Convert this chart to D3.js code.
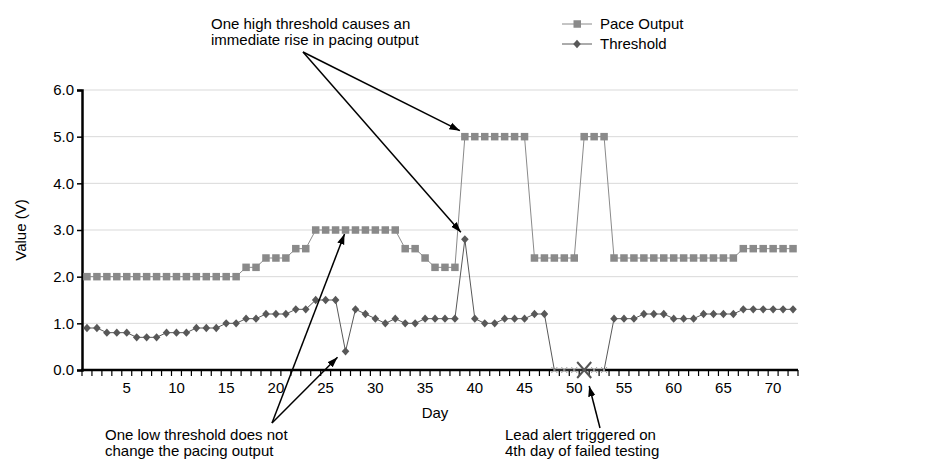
<!DOCTYPE html>
<html>
<head>
<meta charset="utf-8">
<script src="https://cdn.jsdelivr.net/npm/d3@7"></script>
<style>
  body { margin: 0; background: #fff; }
  svg { font-family: "Liberation Sans", Arial, sans-serif; }
</style>
</head>
<body>
<svg width="932" height="464"></svg>
<script>
// days on the x axis
let days = d3.range(1, 73);

// pacing output (V) per day
let paceOutput = [
  2.0, 2.0, 2.0, 2.0, 2.0, 2.0, 2.0, 2.0, 2.0, 2.0, 2.0, 2.0, 2.0, 2.0, 2.0, 2.0,
  2.2, 2.2, 2.4, 2.4, 2.4, 2.6, 2.6,
  3.0, 3.0, 3.0, 3.0, 3.0, 3.0, 3.0, 3.0, 3.0,
  2.6, 2.6, 2.4, 2.2, 2.2, 2.2,
  5.0, 5.0, 5.0, 5.0, 5.0, 5.0, 5.0,
  2.4, 2.4, 2.4, 2.4, 2.4,
  5.0, 5.0, 5.0,
  2.4, 2.4, 2.4, 2.4, 2.4, 2.4, 2.4, 2.4, 2.4, 2.4, 2.4, 2.4, 2.4,
  2.6, 2.6, 2.6, 2.6, 2.6, 2.6
];

// measured threshold (V) per day, 0 = failed test
let threshold = [
  0.9, 0.9, 0.8, 0.8, 0.8, 0.7, 0.7, 0.7, 0.8, 0.8, 0.8, 0.9, 0.9, 0.9, 1.0, 1.0,
  1.1, 1.1, 1.2, 1.2, 1.2, 1.3, 1.3,
  1.5, 1.5, 1.5, 0.4, 1.3, 1.2, 1.1, 1.0, 1.1,
  1.0, 1.0, 1.1, 1.1, 1.1, 1.1,
  2.8, 1.1, 1.0, 1.0, 1.1, 1.1, 1.1,
  1.2, 1.2, 0, 0, 0,
  0, 0, 0,
  1.1, 1.1, 1.1, 1.2, 1.2, 1.2, 1.1, 1.1, 1.1, 1.2, 1.2, 1.2, 1.2,
  1.3, 1.3, 1.3, 1.3, 1.3, 1.3
];

let failedDays = [48, 49, 50, 51, 52, 53];
let alertDay = 51;

let xTickDays = [5, 10, 15, 20, 25, 30, 35, 40, 45, 50, 55, 60, 65, 70];
let yTicks = [0, 1, 2, 3, 4, 5, 6];

let svg = d3.select("svg");

let x = d3.scaleBand().domain(days).range([82, 798]);
let y = d3.scaleLinear().domain([0, 6]).range([370, 90]);
let cx = d => x(d) + x.bandwidth() / 2;

let paceColor = "#8a8a8a";
let threshColor = "#585858";

// arrowhead
svg.append("defs").append("marker")
    .attr("id", "arr")
    .attr("viewBox", "0 0 10 10")
    .attr("refX", 10).attr("refY", 5)
    .attr("markerWidth", 7).attr("markerHeight", 7)
    .attr("orient", "auto")
  .append("path")
    .attr("d", "M0,1.5 L10,5 L0,8.5 Z")
    .attr("fill", "#000");

// grid
svg.append("g")
  .selectAll("line")
  .data(yTicks.filter(t => t > 0))
  .enter().append("line")
    .attr("x1", 82).attr("x2", 798)
    .attr("y1", d => y(d)).attr("y2", d => y(d))
    .attr("stroke", "#d9d9d9").attr("stroke-width", 1);

// y axis
let yAxis = svg.append("g")
    .attr("transform", "translate(82,0)")
    .call(d3.axisLeft(y).tickValues(yTicks).tickFormat(d3.format(".1f")).tickSize(5).tickPadding(3));
yAxis.select(".domain").attr("stroke-width", 2.5);
yAxis.selectAll("text").attr("font-size", 15).attr("fill", "#000").attr("font-family", "Liberation Sans, Arial, sans-serif");
yAxis.selectAll("line").attr("stroke-width", 1.5);

// x axis: ticks on the band edges, labels every 5 days
let xg = svg.append("g");
xg.selectAll("line.tk")
  .data(days.concat([73]))
  .enter().append("line")
    .attr("x1", d => d === 73 ? x(72) + x.bandwidth() : x(d))
    .attr("x2", d => d === 73 ? x(72) + x.bandwidth() : x(d))
    .attr("y1", 370).attr("y2", 376)
    .attr("stroke", "#000").attr("stroke-width", 1.2);
xg.append("line")
    .attr("x1", 81).attr("x2", 798)
    .attr("y1", 370).attr("y2", 370)
    .attr("stroke", "#000").attr("stroke-width", 2.5);
xg.selectAll("text")
  .data(xTickDays)
  .enter().append("text")
    .attr("x", d => cx(d))
    .attr("y", 393)
    .attr("text-anchor", "middle")
    .attr("font-size", 15)
    .text(d => d);

// axis titles
svg.append("text")
    .attr("transform", "translate(26,230) rotate(-90)")
    .attr("text-anchor", "middle")
    .attr("font-size", 15)
    .text("Value (V)");
svg.append("text")
    .attr("x", cx(36)).attr("y", 418)
    .attr("text-anchor", "middle")
    .attr("font-size", 15)
    .text("Day");

// pace output series
let seriesLine = d3.line().x((d, i) => cx(days[i])).y(d => y(d));
svg.append("path")
    .attr("d", seriesLine(paceOutput))
    .attr("fill", "none").attr("stroke", paceColor).attr("stroke-width", 1);
svg.append("g")
  .selectAll("rect")
  .data(paceOutput)
  .enter().append("rect")
    .attr("x", (d, i) => cx(days[i]) - 3.75)
    .attr("y", d => y(d) - 3.75)
    .attr("width", 7.5).attr("height", 7.5)
    .attr("fill", paceColor);

// threshold series
svg.append("path")
    .attr("d", seriesLine(threshold))
    .attr("fill", "none").attr("stroke", threshColor).attr("stroke-width", 1);
let diamond = "M0,-4.2L3.8,0L0,4.2L-3.8,0Z";
svg.append("g")
  .selectAll("path")
  .data(threshold.map((v, i) => ({day: days[i], v: v})).filter(d => failedDays.indexOf(d.day) < 0))
  .enter().append("path")
    .attr("transform", d => "translate(" + cx(d.day) + "," + y(d.v) + ")")
    .attr("d", diamond)
    .attr("fill", threshColor);

// failed tests: small crosses
let fails = svg.append("g");
failedDays.forEach(function (d) {
    let px = cx(d), py = y(threshold[d - 1]);
    fails.append("path")
        .attr("d", "M" + (px - 3) + "," + (py - 3) + "L" + (px + 3) + "," + (py + 3) +
                   "M" + (px - 3) + "," + (py + 3) + "L" + (px + 3) + "," + (py - 3))
        .attr("stroke", "#9a9a9a").attr("stroke-width", 1);
});
// alert marker
let ax = cx(alertDay), ay = y(threshold[alertDay - 1]);
svg.append("path")
    .attr("d", "M" + (ax - 7) + "," + (ay - 8) + "L" + (ax + 7) + "," + (ay + 8) +
               "M" + (ax - 7) + "," + (ay + 8) + "L" + (ax + 7) + "," + (ay - 8))
    .attr("stroke", "#555").attr("stroke-width", 2);

// legend
let legend = svg.append("g");
legend.append("line").attr("x1", 562).attr("x2", 592).attr("y1", 24).attr("y2", 24)
    .attr("stroke", paceColor).attr("stroke-width", 1);
legend.append("rect").attr("x", 573.5).attr("y", 20.25).attr("width", 7.5).attr("height", 7.5).attr("fill", paceColor);
legend.append("text").attr("x", 600).attr("y", 29).attr("font-size", 15).text("Pace Output");
legend.append("line").attr("x1", 562).attr("x2", 592).attr("y1", 44).attr("y2", 44)
    .attr("stroke", threshColor).attr("stroke-width", 1);
legend.append("path").attr("transform", "translate(577,44)").attr("d", diamond).attr("fill", threshColor);
legend.append("text").attr("x", 600).attr("y", 49).attr("font-size", 15).text("Threshold");

// annotations
function note(lines, x0, y0) {
    let t = svg.append("text").attr("font-size", 15);
    lines.forEach(function (s, i) {
        t.append("tspan").attr("x", x0).attr("y", y0 + i * 15.5).text(s);
    });
}
function arrow(x1, y1, x2, y2) {
    svg.append("line")
        .attr("x1", x1).attr("y1", y1).attr("x2", x2).attr("y2", y2)
        .attr("stroke", "#000").attr("stroke-width", 1.5)
        .attr("marker-end", "url(#arr)");
}

note(["One high threshold causes an", "immediate rise in pacing output"], 211, 29);
arrow(303, 52, cx(39) - 5, y(paceOutput[38]) - 6);
arrow(303, 52, cx(39) - 4, y(threshold[38]) - 7);

note(["One low threshold does not", "change the pacing output"], 105, 440);
arrow(272, 423, cx(27) - 1, y(paceOutput[26]) + 4);
arrow(272, 423, cx(27) - 8, y(threshold[26]) + 6);

note(["Lead alert triggered on", "4th day of failed testing"], 505, 440);
arrow(600, 428, cx(alertDay) + 5, ay + 16);
</script>
</body>
</html>
